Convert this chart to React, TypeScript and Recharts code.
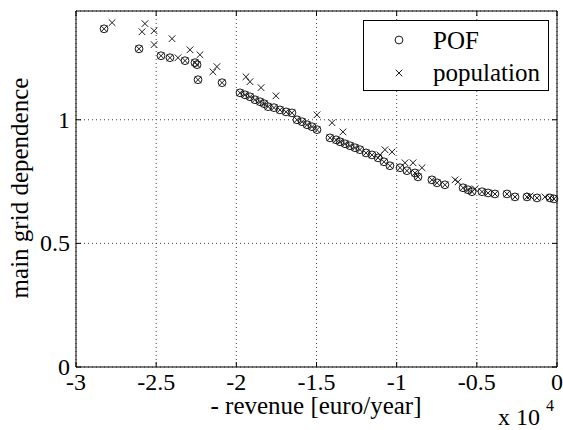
import React from 'react';
import { ScatterChart, Scatter, XAxis, YAxis, CartesianGrid, ReferenceLine, Legend, Label } from 'recharts';

// Pareto-optimal front (revenue in euro/year, main grid dependence)
const pofRevenue = [
    -28250, -26070, -24700, -24140, -23200, -22580, -22450, -22390, -20890, -19770,
    -19460, -19150, -18840, -18520, -18270, -18020, -17650, -17280, -16900, -16530,
    -16220, -15900, -15590, -15280, -14970, -14160, -13780, -13530, -13220, -12910,
    -12600, -12290, -11910, -11540, -11160, -10790, -10420, -9790, -9360, -8860,
    -8670, -7800, -7480, -6990, -5860, -5550, -5300, -4680, -4300, -3870,
    -3120, -2620, -1870, -1250, -440, -190,
];
const pofDependence = [
    1.368, 1.287, 1.259, 1.251, 1.239, 1.231, 1.223, 1.162, 1.150, 1.109,
    1.101, 1.093, 1.081, 1.073, 1.065, 1.053, 1.049, 1.040, 1.032, 1.028,
    1.000, 0.992, 0.980, 0.972, 0.960, 0.927, 0.919, 0.911, 0.903, 0.895,
    0.887, 0.879, 0.866, 0.858, 0.846, 0.830, 0.814, 0.806, 0.794, 0.785,
    0.769, 0.757, 0.745, 0.737, 0.725, 0.717, 0.709, 0.709, 0.704, 0.700,
    0.700, 0.688, 0.688, 0.684, 0.684, 0.680,
];

// population members that are not on the front
const otherRevenue = [
    -27750, -25700, -25880, -25130, -25130, -24010, -22890, -22270, -23640, -21460,
    -21210, -19400, -19150, -18460, -17530, -14970, -14030, -13350, -10730, -10290,
    -11040, -9480, -8980, -8420, -6360, -6170, -5110, -1680, -750,
];
const otherDependence = [
    1.393, 1.389, 1.356, 1.360, 1.304, 1.328, 1.283, 1.263, 1.251, 1.194,
    1.215, 1.174, 1.154, 1.130, 1.097, 1.020, 0.988, 0.951, 0.879, 0.870,
    0.858, 0.826, 0.826, 0.806, 0.757, 0.749, 0.721, 0.692, 0.688,
];

const xTicks = [-30000, -25000, -20000, -15000, -10000, -5000, 0];
const yTicks = [0, 0.5, 1];
const Y_MAX = 1.44;

const pofPoints = pofRevenue.map((x, i) => ({ x, y: pofDependence[i] }));
const populationPoints = [
    ...pofPoints,
    ...otherRevenue.map((x, i) => ({ x, y: otherDependence[i] })),
];

const FONT = 'Liberation Serif';
const INK = '#1a1a1a';
const PLOT = { left: 76, right: 557, top: 11, bottom: 367 };

const Ring = (props: any) => {
    const { cx, cy } = props;
    return <circle cx={cx} cy={cy} r={3.9} fill="none" stroke={INK} strokeWidth={1} />;
};

const Cross = (props: any) => {
    const { cx, cy } = props;
    const s = 3.3;
    return (
        <g stroke={INK} strokeWidth={1}>
            <line x1={cx - s} y1={cy - s} x2={cx + s} y2={cy + s} />
            <line x1={cx - s} y1={cy + s} x2={cx + s} y2={cy - s} />
        </g>
    );
};

const XTick = (props: any) => {
    const { x, payload } = props;
    return (
        <g>
            <line x1={x} x2={x} y1={PLOT.bottom} y2={PLOT.bottom - 5} stroke="#000" />
            <line x1={x} x2={x} y1={PLOT.top} y2={PLOT.top + 5} stroke="#000" />
            <text x={x} y={390} textAnchor="middle" fontSize={24} fontFamily={FONT} fill="#000">
                {payload.value / 10000}
            </text>
        </g>
    );
};

const YTick = (props: any) => {
    const { y, payload } = props;
    return (
        <g>
            <line x1={PLOT.left} x2={PLOT.left + 5} y1={y} y2={y} stroke="#000" />
            <line x1={PLOT.right} x2={PLOT.right - 5} y1={y} y2={y} stroke="#000" />
            <text x={70} y={y + 8} textAnchor="end" fontSize={24} fontFamily={FONT} fill="#000">
                {payload.value}
            </text>
        </g>
    );
};

const LegendBox = () => (
    <svg width={186} height={71} style={{ display: 'block' }}>
        <rect x={0.5} y={0.5} width={185} height={70} fill="#fff" stroke="#000" />
        <Ring cx={36} cy={20} />
        <Cross cx={36} cy={53} />
        <text x={70} y={29} fontSize={25} fontFamily={FONT} fill="#000">POF</text>
        <text x={70} y={61} fontSize={25} fontFamily={FONT} fill="#000">population</text>
    </svg>
);

export default function App() {
    return (
        <div style={{ position: 'absolute', left: 0, top: 0, width: 563, height: 430, background: '#fff' }}>
            <ScatterChart width={563} height={430} margin={{ top: 11, right: 6, bottom: 0, left: 0 }}>
                <CartesianGrid stroke="#444" strokeDasharray="1 3" />
                <XAxis
                    type="number"
                    dataKey="x"
                    domain={[-30000, 0]}
                    ticks={xTicks}
                    height={63}
                    tickSize={0}
                    tick={<XTick />}
                    axisLine={{ stroke: '#000' }}
                    tickLine={false}
                >
                    <Label
                        content={() => (
                            <g>
                                <text x={316} y={414} textAnchor="middle" fontSize={25} fontFamily={FONT} fill="#000">
                                    - revenue [euro/year]
                                </text>
                                <text x={498} y={425} fontSize={24} fontFamily={FONT} fill="#000">x 10</text>
                                <text x={546} y={411} fontSize={16} fontFamily={FONT} fill="#000">4</text>
                            </g>
                        )}
                    />
                </XAxis>
                <YAxis
                    type="number"
                    dataKey="y"
                    domain={[0, Y_MAX]}
                    ticks={yTicks}
                    width={76}
                    tickSize={0}
                    tick={<YTick />}
                    axisLine={{ stroke: '#000' }}
                    tickLine={false}
                >
                    <Label
                        content={() => (
                            <text
                                x={28}
                                y={188}
                                transform="rotate(-90 28 188)"
                                textAnchor="middle"
                                fontSize={25}
                                fontFamily={FONT}
                                fill="#000"
                            >
                                main grid dependence
                            </text>
                        )}
                    />
                </YAxis>
                <ReferenceLine y={Y_MAX} stroke="#000" />
                <ReferenceLine x={0} stroke="#000" />
                <Scatter name="POF" data={pofPoints} shape={Ring} isAnimationActive={false} />
                <Scatter name="population" data={populationPoints} shape={Cross} isAnimationActive={false} />
                <Legend
                    layout="vertical"
                    align="center"
                    verticalAlign="middle"
                    content={<LegendBox />}
                    wrapperStyle={{ left: 363, top: 20, width: 186, height: 71 }}
                />
            </ScatterChart>
        </div>
    );
}
